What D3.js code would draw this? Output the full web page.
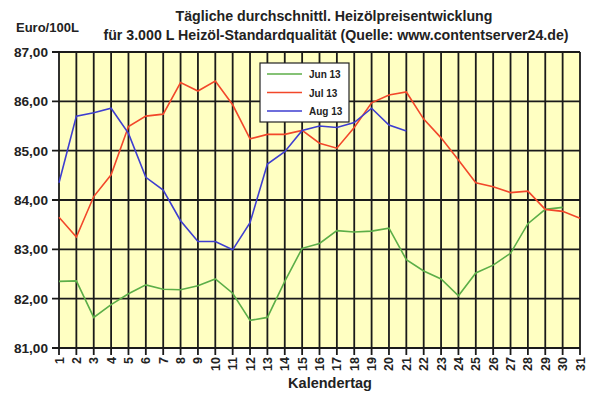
<!DOCTYPE html>
<html><head><meta charset="utf-8">
<script src="https://cdn.jsdelivr.net/npm/d3@7"></script>
<style>body{margin:0;background:#fff}svg{display:block;font-family:"Liberation Sans",Arial,sans-serif;font-weight:bold}</style>
</head><body><svg id="c" width="595" height="400"></svg>
<script>
const days = d3.range(1, 32);
const yTicks = [81, 82, 83, 84, 85, 86, 87];
const seriesNames = ["Jun 13", "Jul 13", "Aug 13"];
const seriesColors = ["#5cae48", "#f2472a", "#3e3ed0"];
const jun13 = [82.35,82.36,81.62,81.88,82.10,82.28,82.19,82.18,82.26,82.40,82.11,81.56,81.62,82.35,83.02,83.12,83.38,83.35,83.37,83.43,82.79,82.56,82.40,82.06,82.52,82.68,82.92,83.52,83.81,83.85];
const jul13 = [83.65,83.25,84.07,84.51,85.49,85.70,85.74,86.38,86.21,86.41,85.93,85.24,85.33,85.33,85.41,85.15,85.05,85.47,85.97,86.13,86.19,85.64,85.26,84.81,84.35,84.27,84.15,84.18,83.81,83.77,83.63];
const aug13 = [84.35,85.70,85.77,85.86,85.35,84.46,84.20,83.58,83.16,83.16,82.99,83.54,84.73,84.98,85.41,85.50,85.47,85.57,85.86,85.52,85.40];
const series = [jun13, jul13, aug13];

const svg = d3.select("#c");
const x = d3.scaleLinear().domain([1, 31]).range([59, 580]);
const y = d3.scaleLinear().domain([81, 87]).range([348, 52]);

svg.append("rect").attr("x", x(1)).attr("y", y(87)).attr("width", x(31) - x(1)).attr("height", y(81) - y(87)).attr("fill", "#ffffc2");

// grid
svg.append("g").selectAll("line").data(days).join("line")
  .attr("x1", d => x(d)).attr("x2", d => x(d)).attr("y1", y(87)).attr("y2", y(81) + 7)
  .attr("stroke", "#1a1a1a").attr("stroke-width", 1.8);
svg.append("g").selectAll("line").data(yTicks).join("line")
  .attr("x1", x(1) - 7).attr("x2", x(31)).attr("y1", d => y(d)).attr("y2", d => y(d))
  .attr("stroke", "#1a1a1a").attr("stroke-width", 1.8);

// axes labels
const fmt = d => d3.format(".2f")(d).replace(".", ",");
svg.append("g").selectAll("text").data(yTicks).join("text")
  .attr("x", 48).attr("y", d => y(d) + 5).attr("text-anchor", "end")
  .attr("font-size", 13.6).attr("fill", "#222").text(fmt);
svg.append("g").selectAll("text").data(days).join("text")
  .attr("transform", d => `translate(${x(d) + 4.5},${y(81) + 9}) rotate(-90)`)
  .attr("text-anchor", "end").attr("font-size", 12.5).attr("fill", "#222").text(d => d);

// lines
const line = d3.line().x((d, i) => x(i + 1)).y(d => y(d));
series.forEach((s, i) => {
  svg.append("path").datum(s).attr("d", line).attr("fill", "none")
    .attr("stroke", seriesColors[i]).attr("stroke-width", 1.6);
});

// titles
svg.append("text").attr("x", 334).attr("y", 21).attr("text-anchor", "middle").attr("font-size", 14.2).attr("fill", "#222")
  .text("Tägliche durchschnittl. Heizölpreisentwicklung");
svg.append("text").attr("x", 336).attr("y", 40).attr("text-anchor", "middle").attr("font-size", 14.2).attr("fill", "#222")
  .text("für 3.000 L Heizöl-Standardqualität (Quelle: www.contentserver24.de)");
svg.append("text").attr("x", 16).attr("y", 32).attr("font-size", 13).attr("fill", "#222").text("Euro/100L");
svg.append("text").attr("x", 330).attr("y", 388).attr("text-anchor", "middle").attr("font-size", 14.5).attr("fill", "#222").text("Kalendertag");

// legend
const lg = svg.append("g");
lg.append("rect").attr("x", 260).attr("y", 63).attr("width", 89).attr("height", 59).attr("fill", "#fff").attr("stroke", "#222").attr("stroke-width", 1.2);
seriesNames.forEach((n, i) => {
  const yy = 74 + i * 18.5;
  lg.append("line").attr("x1", 267).attr("x2", 302).attr("y1", yy).attr("y2", yy).attr("stroke", seriesColors[i]).attr("stroke-width", 1.6);
  lg.append("text").attr("x", 309).attr("y", yy + 4).attr("font-size", 10).attr("fill", "#222").text(n);
});
</script></body></html>
